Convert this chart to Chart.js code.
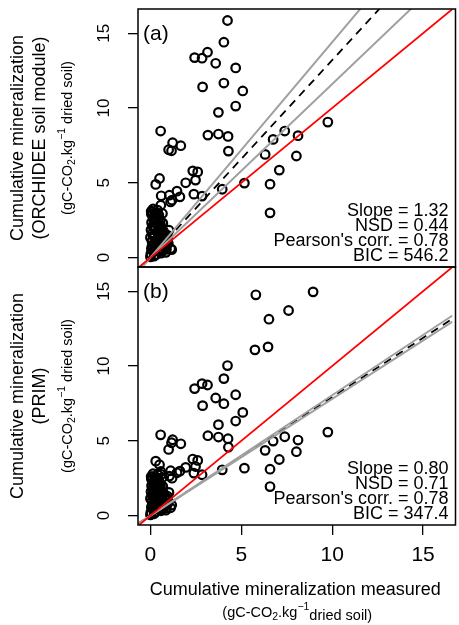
<!DOCTYPE html>
<html lang="en">
<head>
  <meta charset="UTF-8">
  <title>Cumulative mineralization: modelled vs measured</title>
  <script src="https://cdn.jsdelivr.net/npm/chart.js"></script>
  <style>
    body { margin: 0; background: #fff; }
    #wrap { position: relative; width: 459px; height: 625px; overflow: hidden; }
    canvas { position: absolute; left: 0; }
    #chartA { top: 0; width: 459px; height: 276px; }
    #chartB { top: 258px; width: 459px; height: 367px; }
  </style>
</head>
<body>
  <div id="wrap">
    <canvas id="chartA" width="459" height="276"></canvas>
    <canvas id="chartB" width="459" height="367"></canvas>
  </div>

  <script>
    // measured values (x) shared by both panels
    const measured = [
      4.24, 4.04, 4.04, 2.43, 2.84, 2.87, 3.14, 3.59, 4.69, 4.69, 5.08, 3.74, 3.74, 9.76, 0.56,
      3.16, 4.27, 7.39, 6.75, 8.12, 1.22, 1.67, 1.00, 1.16, 4.29, 6.31, 8.03, 2.33, 2.60, 7.09,
      2.48, 1.94, 5.17, 6.58, 6.58, 3.95, 2.84, 2.39, 0.50, 0.29, 1.46, 1.62, 1.04, 0.59, 1.19,
      8.95, 5.80, 7.60, 6.52, 5.75, 6.47,
      0.02, 0.05, 0.08, 0.10, 0.12, 0.15, 0.18, 0.20, 0.22, 0.25, 0.28, 0.30, 0.32, 0.35, 0.38,
      0.40, 0.42, 0.45, 0.48, 0.50, 0.52, 0.55, 0.58, 0.60, 0.62, 0.65, 0.68, 0.70, 0.75, 0.80,
      0.85, 0.90, 0.95, 1.02, 1.11, 1.17, 0.05, 0.10, 0.39, 0.66, 0.57, 1.11, 0.20, 0.00,
      0.00, 0.03, 0.06, 0.09, 0.13, 0.16, 0.19, 0.23, 0.26, 0.29, 0.33, 0.36, 0.41, 0.44, 0.47,
      0.53, 0.56, 0.61, 0.64, 0.72, 0.78, 0.83, 0.88, 0.93, 0.98, 0.04, 0.14, 0.24, 0.34, 0.46
    ];
    // panel (a): ORCHIDEE soil module (null = outside the plotted range)
    const orchidee = [
      15.85, 14.40, 11.67, 13.37, 13.33, 11.41, 13.73, 12.99, 12.68, 10.13, 11.14, 9.71, 8.26, 9.06, 8.46,
      8.19, 8.10, 8.46, 7.90, 8.15, 7.68, 7.48, 7.21, 7.14, 7.12, 6.90, 6.79, 5.80, 5.73, 5.85,
      5.18, 5.00, 4.98, 4.91, 2.99, 4.57, 4.11, 4.24, 5.29, 4.89, 4.44, 4.06, 4.17, 4.13, 3.84,
      null, null, null, null, null, null,
      0.25, 0.60, 1.10, 1.60, 2.10, 2.60, 0.40, 0.90, 1.40, 1.90, 2.40, 0.20, 0.70, 1.20, 1.70,
      2.20, 2.80, 0.45, 1.00, 1.50, 2.00, 2.50, 0.30, 0.80, 1.30, 1.80, 2.30, 0.55, 1.05, 1.55,
      0.35, 0.90, 1.25, 1.83, 0.60, 0.53, 2.90, 3.05, 3.17, 2.95, 3.50, 3.72, 0.10, 0.05,
      1.35, 1.85, 2.35, 0.80, 0.60, 1.45, 2.05, 2.65, 0.65, 1.15, 2.60, 0.95, 1.25, 2.45, 1.75,
      0.85, 2.15, 1.55, 0.45, 1.75, 0.70, 1.20, 0.55, 1.50, 0.95, 3.10, 3.25, 2.95, 3.00, 2.85
    ];
    // panel (b): PRIM
    const prim = [
      10.03, 9.16, 7.48, 8.49, 8.82, 7.35, 8.73, 7.86, 8.08, 6.32, 6.90, 6.08, 5.25, 5.58, 5.40,
      5.34, 5.14, 5.27, 4.98, 5.05, 5.07, 4.80, 4.42, 4.87, 4.57, 4.36, 4.27, 3.78, 3.69, 3.75,
      3.28, 3.22, 3.17, 3.10, 1.94, 3.06, 2.73, 2.84, 3.40, 3.64, 2.86, 2.97, 2.64, 2.75, 2.50,
      14.96, 14.76, 13.71, 13.13, 11.08, 11.28,
      0.22, 0.55, 0.95, 1.35, 1.80, 2.20, 0.38, 0.80, 1.20, 1.60, 2.05, 0.25, 0.62, 1.05, 1.45,
      1.85, 2.35, 0.42, 0.88, 1.28, 1.70, 2.10, 0.32, 0.70, 1.12, 1.52, 1.95, 0.50, 0.92, 1.30,
      0.36, 0.78, 1.08, 1.55, 0.52, 0.70, 2.45, 2.60, 2.75, 2.55, 2.95, 3.00, 0.12, 0.05,
      1.15, 1.60, 2.00, 0.70, 0.55, 1.25, 1.75, 2.25, 0.58, 1.00, 2.20, 0.85, 1.10, 2.10, 1.50,
      0.75, 1.85, 1.35, 0.42, 1.50, 0.62, 1.05, 0.50, 1.30, 0.85, 2.60, 2.80, 2.50, 2.55, 2.40
    ];

    // fitted lines (through origin)
    const slopesA = { fit: 1.32, lower: 1.16, upper: 1.44 };
    const slopesB = { fit: 0.792, lower: 0.78, upper: 0.805 };

    const statsA = ['Slope = 1.32', 'NSD = 0.44', "Pearson's corr. = 0.78", 'BIC = 546.2'];
    const statsB = ['Slope = 0.80', 'NSD = 0.71', "Pearson's corr. = 0.78", 'BIC = 347.4'];

    const xTicks = [0, 5, 10, 15];
    const yTicks = [0, 5, 10, 15];

    const X_MIN = -0.685, X_MAX = 16.62;
    const Y_MIN = -0.63, Y_MAX = 16.62;
    const FONT = "'Liberation Sans', Arial, Helvetica, sans-serif";

    function abline(slope) {
      return [{ x: X_MIN, y: slope * X_MIN }, { x: X_MAX, y: slope * X_MAX }];
    }

    // unit text with sub/superscripts: level 0 normal, -1 subscript, 1 superscript, -0.5 lowered
    function drawRich(ctx, parts, size) {
      const small = size * 0.72;
      let total = 0;
      parts.forEach(([t, lvl]) => {
        ctx.font = ((lvl === -1 || lvl === 1) ? small : size) + 'px ' + FONT;
        total += ctx.measureText(t).width;
      });
      let x = -total / 2;
      parts.forEach(([t, lvl]) => {
        const s = (lvl === -1 || lvl === 1) ? small : size;
        ctx.font = s + 'px ' + FONT;
        let dy = 0;
        if (lvl === -1) dy = size * 0.25;
        if (lvl === 1) dy = -size * 0.42;
        if (lvl === -0.5) dy = size * 0.2;
        ctx.fillText(t, x, dy);
        x += ctx.measureText(t).width;
      });
    }

    const yUnit = [['(gC-CO', 0], ['2', -1], ['.kg', 0], ['\u22121', 1], [' dried soil)', 0]];
    const xUnit = [['(gC-CO', 0], ['2', -1], ['.kg', 0], ['\u22121', 1], ['dried soil)', -0.5]];

    const panelDecor = {
      id: 'panelDecor',
      afterDraw(chart, args, opts) {
        const { ctx, chartArea: a } = chart;
        ctx.save();
        // frame
        ctx.strokeStyle = '#000';
        ctx.lineWidth = 1.5;
        ctx.strokeRect(a.left, a.top, a.right - a.left + 3, a.bottom - a.top);
        ctx.fillStyle = '#000';
        // panel label
        ctx.font = '21px ' + FONT;
        ctx.textAlign = 'left';
        ctx.textBaseline = 'middle';
        ctx.fillText(opts.label, a.left + 5, a.top + 25);
        // statistics
        ctx.font = '18px ' + FONT;
        ctx.textAlign = 'right';
        const offs = [56, 41, 26, 11];
        opts.stats.forEach((s, i) => ctx.fillText(s, a.right - 4, a.bottom - offs[i]));
        // y unit line
        ctx.textAlign = 'left';
        ctx.textBaseline = 'middle';
        ctx.save();
        ctx.translate(68, (a.top + a.bottom) / 2);
        ctx.rotate(-Math.PI / 2);
        drawRich(ctx, yUnit, 14.5);
        ctx.restore();
        if (opts.xUnit) {
          ctx.save();
          ctx.translate((a.left + a.right) / 2 + 2, 355);
          drawRich(ctx, xUnit, 14.5);
          ctx.restore();
        }
        ctx.restore();
      }
    };

    function makeChart(id, ys, slopes, yTitle, label, stats, showX) {
      const pts = measured.map((x, i) => ({ x: x, y: ys[i] })).filter(p => p.y !== null);
      return new Chart(document.getElementById(id), {
        type: 'scatter',
        data: {
          datasets: [
            { data: abline(1), showLine: true, borderColor: '#ff0000', borderWidth: 1.8, pointRadius: 0, clip: 0 },
            { data: abline(slopes.lower), showLine: true, borderColor: '#a0a0a0', borderWidth: 2, pointRadius: 0, clip: 0 },
            { data: abline(slopes.upper), showLine: true, borderColor: '#a0a0a0', borderWidth: 2, pointRadius: 0, clip: 0 },
            { data: abline(slopes.fit), showLine: true, borderColor: '#000', borderWidth: 1.8, borderDash: [8, 6], pointRadius: 0, clip: 0 },
            { data: pts, pointStyle: 'circle', pointRadius: 4.3, pointBorderWidth: 2.2,
              borderColor: '#000', backgroundColor: 'rgba(0,0,0,0)' }
          ]
        },
        options: {
          responsive: false,
          maintainAspectRatio: false,
          animation: false,
          devicePixelRatio: 1,
          layout: { padding: { top: 9, bottom: showX ? 0 : 9, left: 0, right: 0 } },
          plugins: {
            legend: { display: false },
            tooltip: { enabled: false },
            panelDecor: { label: label, stats: stats, xUnit: showX }
          },
          scales: {
            x: {
              type: 'linear',
              display: showX,
              min: X_MIN, max: X_MAX,
              afterBuildTicks: s => { s.ticks = xTicks.map(v => ({ value: v })); },
              afterFit: s => {
                s.height = showX ? 100 : 0;
                s.paddingLeft = 0; s.paddingRight = 0;
              },
              grid: { drawOnChartArea: false, drawTicks: true, tickLength: 10, color: '#000', lineWidth: 1.3 },
              border: { display: false },
              ticks: { color: '#000', font: { family: FONT, size: 21 }, padding: 8, maxRotation: 0 },
              title: {
                display: true, text: 'Cumulative mineralization measured', color: '#000',
                font: { family: FONT, size: 18, lineHeight: 1.22 }, padding: { bottom: 24 }
              }
            },
            y: {
              type: 'linear',
              min: Y_MIN, max: Y_MAX,
              afterBuildTicks: s => { s.ticks = yTicks.map(v => ({ value: v })); },
              afterFit: s => {
                s.width = 138;
                s.paddingTop = 0; s.paddingBottom = 0;
              },
              grid: { drawOnChartArea: false, drawTicks: true, tickLength: 10, color: '#000', lineWidth: 1.3 },
              border: { display: false },
              ticks: { color: '#000', font: { family: FONT, size: 17 }, padding: 14,
                minRotation: 90, maxRotation: 90, crossAlign: 'center' },
              title: {
                display: true, text: yTitle, color: '#000',
                font: { family: FONT, size: 18, lineHeight: 1.22 }, padding: { top: 7 }
              }
            }
          }
        },
        plugins: [panelDecor]
      });
    }

    makeChart('chartA', orchidee, slopesA,
      ['Cumulative mineralization', '(ORCHIDEE soil module)'], '(a)', statsA, false);
    makeChart('chartB', prim, slopesB,
      ['Cumulative mineralization', '(PRIM)'], '(b)', statsB, true);
  </script>
</body>
</html>
